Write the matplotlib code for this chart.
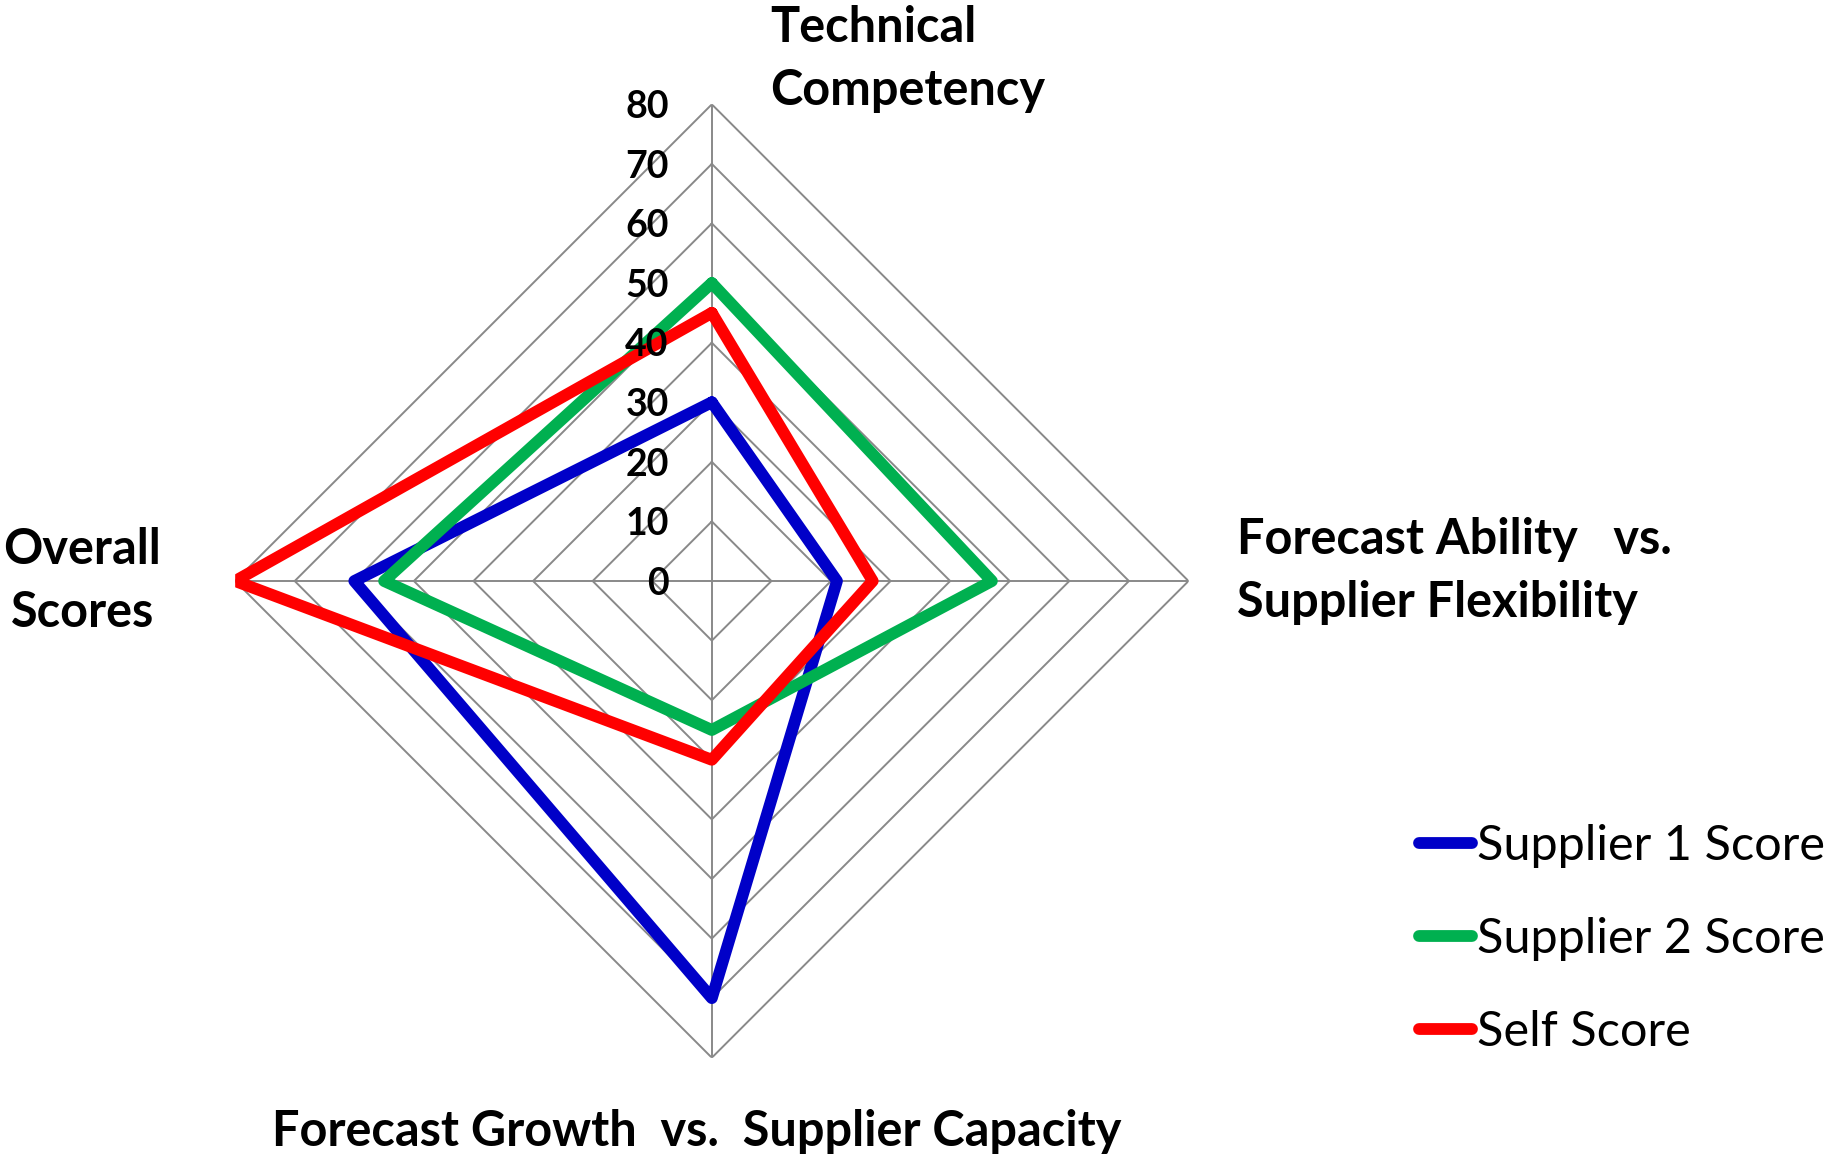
import numpy as np
import matplotlib.pyplot as plt

# data
categories = ["Technical\nCompetency",
              "Forecast Ability   vs.\nSupplier Flexibility",
              "Forecast Growth  vs.  Supplier Capacity",
              "Overall\nScores"]
supplier1 = [30, 21, 70, 60]
supplier2 = [50, 47, 25, 55]
self_score = [45, 27, 30, 80]
series_names = ["Supplier 1 Score", "Supplier 2 Score", "Self Score"]
series_colors = ["#0000C8", "#00B050", "#FF0000"]
r_ticks = [0, 10, 20, 30, 40, 50, 60, 70, 80]

plt.rcParams['font.family'] = ['Lato', 'DejaVu Sans']

fig = plt.figure(figsize=(18.28, 11.58), dpi=100)
ax = fig.add_axes([0.1286, 0.0866, 0.5216, 0.8233], projection='polar')
ax.set_theta_offset(np.pi / 2)
ax.set_theta_direction(-1)
ax.set_ylim(0, r_ticks[-1])
ax.grid(False)
ax.spines['polar'].set_visible(False)
ax.set_xticks([])
ax.set_yticks([])

angles = np.linspace(0, 2 * np.pi, len(categories), endpoint=False)
closed = np.append(angles, angles[0])

# diamond grid
grid_col = "#898989"
for r in r_ticks[1:]:
    ax.plot(closed, [r] * len(closed), color=grid_col, lw=1.4, zorder=1)
for a in angles:
    ax.plot([a, a], [0, r_ticks[-1]], color=grid_col, lw=1.4, zorder=1)

# series
for vals, name, col in zip([supplier1, supplier2, self_score], series_names, series_colors):
    ax.plot(closed, vals + vals[:1], color=col, lw=8.5, label=name,
            solid_joinstyle='round', solid_capstyle='round', zorder=3)

# value labels
for r in r_ticks:
    ax.annotate(str(r), (0, r), xytext=(-31, -2), textcoords='offset points',
                ha='right', va='center', fontsize=27, fontweight='bold', zorder=5)

# category labels
offsets = [(42, -6), (35, 7), (-11, -53), (-110, 0)]
aligns = [('left', 'bottom'), ('left', 'center'), ('center', 'center'), ('center', 'center')]
for a, lab, off, (ha, va) in zip(angles, categories, offsets, aligns):
    ax.annotate(lab, (a, r_ticks[-1]), xytext=off, textcoords='offset points',
                ha=ha, va=va, fontsize=35, fontweight='bold', multialignment=ha,
                annotation_clip=False, linespacing=1.48)

fig.legend(loc='center left', bbox_to_anchor=(0.776, 0.189), frameon=False,
           fontsize=35, handlelength=1.1, handletextpad=0.1, labelspacing=1.01,
           borderpad=0, borderaxespad=0)

fig.savefig("out.png", dpi=100)
